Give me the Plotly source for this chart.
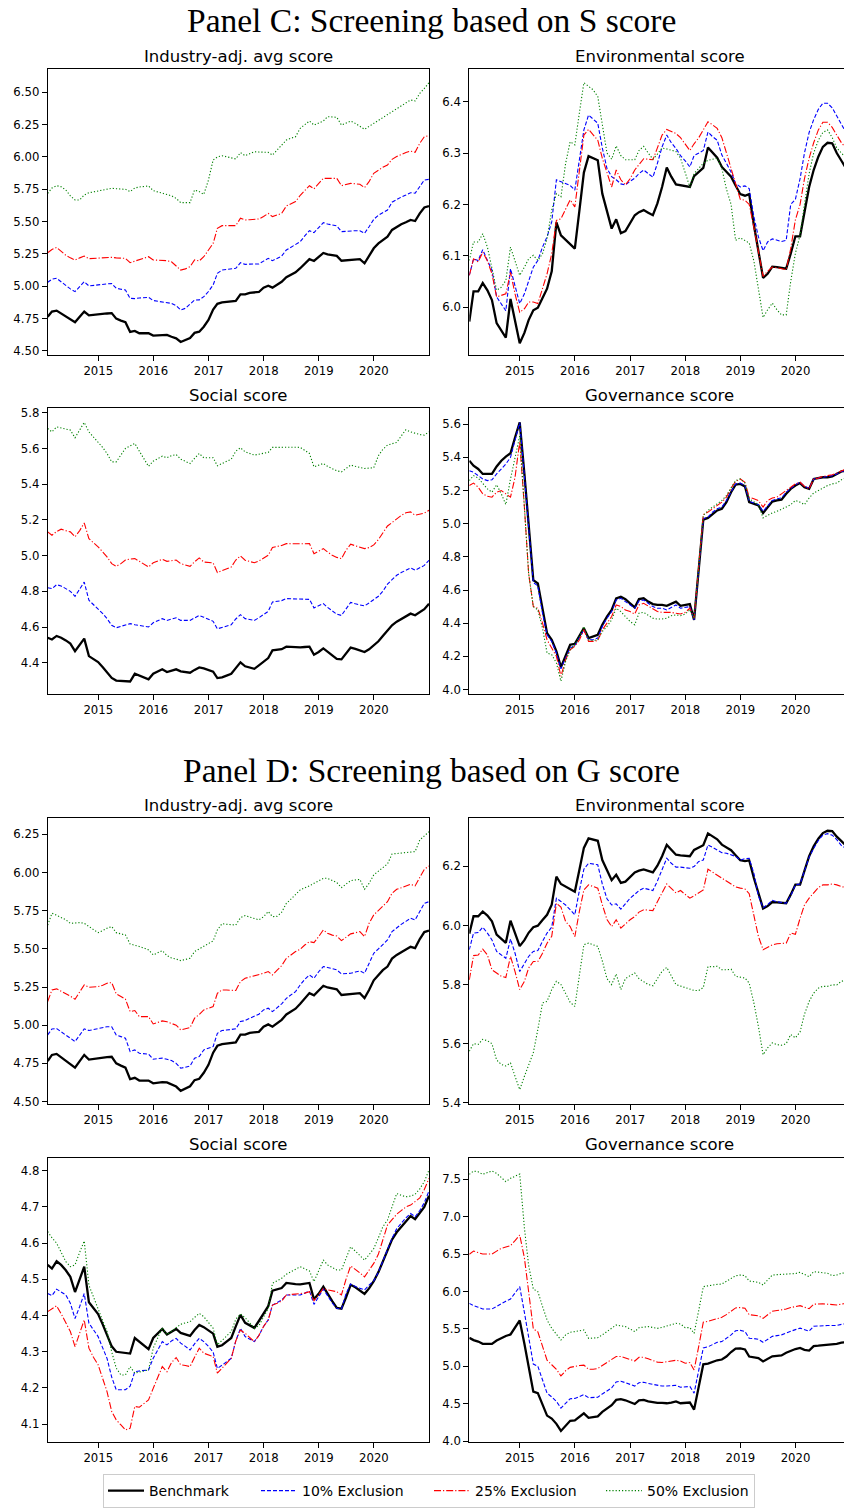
import calendar
from datetime import date, timedelta

import plotly.graph_objects as go

# Month-end observation dates, Jan 2014 - Dec 2020
dates = [date(y, m, calendar.monthrange(y, m)[1]).isoformat()
         for y in range(2014, 2021) for m in range(1, 13)]

# ---------------- Benchmark (same in both panels) ----------------
bench_avg = [
    4.765, 4.805, 4.812, 4.790, 4.770, 4.745, 4.722, 4.765, 4.805, 4.775, 4.780, 4.783,
    4.787, 4.790, 4.793, 4.750, 4.735, 4.722, 4.647, 4.655, 4.637, 4.637, 4.637, 4.619,
    4.622, 4.627, 4.625, 4.610, 4.598, 4.570, 4.585, 4.600, 4.640, 4.649, 4.688, 4.740,
    4.820, 4.865, 4.876, 4.879, 4.883, 4.887, 4.938, 4.938, 4.950, 4.954, 4.956, 4.990,
    5.005, 4.990, 5.010, 5.035, 5.070, 5.090, 5.108, 5.140, 5.175, 5.210, 5.196, 5.225,
    5.258, 5.247, 5.240, 5.235, 5.198, 5.200, 5.204, 5.207, 5.210, 5.178, 5.230, 5.294,
    5.332, 5.360, 5.384, 5.436, 5.460, 5.480, 5.495, 5.513, 5.505, 5.564, 5.610, 5.620,
]
bench_env = [
    5.972, 6.031, 6.031, 6.047, 6.033, 6.014, 5.969, 5.955, 5.941, 6.016, 5.975, 5.930,
    5.950, 5.975, 5.994, 5.999, 6.018, 6.036, 6.070, 6.165, 6.140, 6.131, 6.124, 6.114,
    6.190, 6.262, 6.294, 6.290, 6.286, 6.221, 6.185, 6.153, 6.171, 6.144, 6.148, 6.163,
    6.179, 6.185, 6.189, 6.184, 6.179, 6.202, 6.234, 6.272, 6.254, 6.239, 6.237, 6.235,
    6.234, 6.255, 6.263, 6.271, 6.311, 6.302, 6.291, 6.273, 6.263, 6.254, 6.237, 6.220,
    6.217, 6.220, 6.160, 6.110, 6.057, 6.065, 6.079, 6.078, 6.076, 6.075, 6.104, 6.138,
    6.138, 6.182, 6.234, 6.267, 6.293, 6.312, 6.320, 6.319, 6.300, 6.285, 6.270, 6.255,
]
bench_soc = [
    4.540, 4.530, 4.550, 4.540, 4.525, 4.507, 4.465, 4.500, 4.535, 4.437, 4.420, 4.404,
    4.375, 4.345, 4.315, 4.300, 4.298, 4.297, 4.295, 4.338, 4.328, 4.318, 4.307, 4.338,
    4.350, 4.363, 4.348, 4.355, 4.363, 4.352, 4.348, 4.344, 4.360, 4.374, 4.368, 4.360,
    4.350, 4.314, 4.318, 4.328, 4.338, 4.370, 4.402, 4.380, 4.372, 4.366, 4.385, 4.404,
    4.426, 4.469, 4.472, 4.476, 4.490, 4.488, 4.487, 4.486, 4.488, 4.490, 4.445, 4.460,
    4.480, 4.460, 4.440, 4.421, 4.419, 4.450, 4.485, 4.478, 4.470, 4.460, 4.475, 4.495,
    4.520, 4.550, 4.580, 4.610, 4.630, 4.645, 4.660, 4.675, 4.666, 4.685, 4.700, 4.731,
]
bench_gov = [
    5.380, 5.350, 5.330, 5.300, 5.300, 5.300, 5.345, 5.380, 5.405, 5.425, 5.520, 5.612,
    5.300, 4.980, 4.660, 4.640, 4.480, 4.340, 4.300, 4.230, 4.135, 4.200, 4.270, 4.275,
    4.320, 4.370, 4.310, 4.320, 4.330, 4.390, 4.440, 4.480, 4.550, 4.560, 4.545, 4.520,
    4.495, 4.545, 4.550, 4.530, 4.515, 4.510, 4.510, 4.505, 4.515, 4.530, 4.505, 4.510,
    4.515, 4.420, 4.730, 5.025, 5.035, 5.060, 5.080, 5.090, 5.130, 5.190, 5.235, 5.240,
    5.225, 5.130, 5.120, 5.110, 5.065, 5.100, 5.133, 5.140, 5.145, 5.180, 5.210, 5.230,
    5.245, 5.220, 5.210, 5.270, 5.275, 5.280, 5.280, 5.285, 5.300, 5.315, 5.320, 5.330,
]

# ---------------- Panel C: screening on S score ----------------
s10_avg = [
    5.031, 5.055, 5.062, 5.035, 5.000, 4.980, 4.959, 5.000, 5.036, 5.003, 5.008, 5.012,
    5.016, 5.019, 5.021, 4.985, 4.978, 4.972, 4.907, 4.905, 4.910, 4.913, 4.915, 4.890,
    4.885, 4.880, 4.874, 4.868, 4.850, 4.817, 4.830, 4.860, 4.894, 4.895, 4.920, 4.960,
    5.010, 5.100, 5.126, 5.130, 5.135, 5.139, 5.183, 5.170, 5.172, 5.173, 5.173, 5.195,
    5.216, 5.198, 5.215, 5.234, 5.281, 5.300, 5.320, 5.345, 5.390, 5.430, 5.415, 5.455,
    5.492, 5.482, 5.475, 5.467, 5.423, 5.427, 5.430, 5.430, 5.430, 5.410, 5.461, 5.518,
    5.550, 5.570, 5.590, 5.650, 5.673, 5.690, 5.706, 5.724, 5.720, 5.770, 5.822, 5.827,
]
s25_avg = [
    5.260, 5.285, 5.300, 5.270, 5.240, 5.220, 5.204, 5.220, 5.234, 5.214, 5.216, 5.218,
    5.220, 5.222, 5.224, 5.220, 5.218, 5.216, 5.183, 5.195, 5.210, 5.220, 5.229, 5.204,
    5.202, 5.200, 5.198, 5.190, 5.160, 5.126, 5.135, 5.152, 5.204, 5.196, 5.229, 5.280,
    5.332, 5.448, 5.469, 5.469, 5.468, 5.469, 5.526, 5.513, 5.515, 5.518, 5.521, 5.540,
    5.564, 5.539, 5.550, 5.564, 5.621, 5.640, 5.655, 5.704, 5.740, 5.778, 5.753, 5.795,
    5.835, 5.835, 5.835, 5.835, 5.778, 5.787, 5.796, 5.793, 5.789, 5.763, 5.809, 5.874,
    5.900, 5.920, 5.938, 5.982, 6.003, 6.020, 6.034, 6.046, 6.036, 6.106, 6.157, 6.165,
]
s50_avg = [
    5.719, 5.760, 5.778, 5.770, 5.745, 5.700, 5.668, 5.668, 5.706, 5.724, 5.730, 5.738,
    5.745, 5.752, 5.758, 5.755, 5.752, 5.750, 5.732, 5.760, 5.768, 5.772, 5.776, 5.740,
    5.730, 5.720, 5.711, 5.700, 5.680, 5.647, 5.647, 5.647, 5.745, 5.732, 5.711, 5.822,
    5.977, 6.000, 6.010, 6.000, 5.990, 5.985, 6.034, 6.010, 6.025, 6.041, 6.038, 6.036,
    6.036, 6.015, 6.054, 6.090, 6.131, 6.145, 6.157, 6.222, 6.250, 6.278, 6.247, 6.262,
    6.278, 6.312, 6.310, 6.307, 6.247, 6.262, 6.278, 6.260, 6.240, 6.214, 6.237, 6.260,
    6.285, 6.310, 6.332, 6.355, 6.376, 6.400, 6.420, 6.441, 6.433, 6.492, 6.530, 6.575,
]
s10_env = [
    6.062, 6.094, 6.091, 6.112, 6.091, 6.072, 6.020, 6.007, 5.993, 6.075, 6.039, 6.007,
    6.026, 6.052, 6.078, 6.091, 6.117, 6.137, 6.166, 6.248, 6.244, 6.241, 6.237, 6.228,
    6.290, 6.345, 6.374, 6.366, 6.358, 6.310, 6.270, 6.254, 6.248, 6.240, 6.238, 6.245,
    6.251, 6.260, 6.267, 6.260, 6.253, 6.280, 6.312, 6.335, 6.320, 6.309, 6.295, 6.285,
    6.273, 6.295, 6.300, 6.305, 6.341, 6.332, 6.325, 6.296, 6.280, 6.263, 6.241, 6.234,
    6.236, 6.231, 6.176, 6.137, 6.110, 6.127, 6.133, 6.131, 6.128, 6.130, 6.200, 6.210,
    6.250, 6.300, 6.340, 6.365, 6.385, 6.397, 6.397, 6.388, 6.372, 6.355, 6.340, 6.330,
]
s25_env = [
    6.062, 6.094, 6.088, 6.107, 6.090, 6.065, 6.020, 6.023, 6.026, 6.068, 6.026, 5.990,
    5.997, 6.010, 6.010, 6.007, 6.039, 6.065, 6.104, 6.169, 6.172, 6.192, 6.209, 6.195,
    6.273, 6.335, 6.346, 6.335, 6.325, 6.290, 6.260, 6.234, 6.267, 6.248, 6.238, 6.250,
    6.267, 6.278, 6.289, 6.288, 6.287, 6.310, 6.335, 6.346, 6.342, 6.338, 6.330, 6.318,
    6.305, 6.318, 6.330, 6.345, 6.361, 6.355, 6.348, 6.330, 6.300, 6.270, 6.240, 6.210,
    6.208, 6.200, 6.156, 6.110, 6.060, 6.070, 6.078, 6.077, 6.075, 6.073, 6.114, 6.170,
    6.200, 6.250, 6.290, 6.320, 6.345, 6.360, 6.360, 6.350, 6.335, 6.320, 6.310, 6.300,
]
s50_env = [
    6.091, 6.127, 6.127, 6.143, 6.117, 6.078, 6.033, 6.039, 6.052, 6.117, 6.091, 6.062,
    6.078, 6.094, 6.101, 6.091, 6.104, 6.133, 6.189, 6.221, 6.215, 6.280, 6.322, 6.316,
    6.380, 6.437, 6.430, 6.423, 6.410, 6.360, 6.300, 6.288, 6.314, 6.295, 6.287, 6.287,
    6.287, 6.305, 6.313, 6.300, 6.288, 6.298, 6.310, 6.308, 6.305, 6.303, 6.290, 6.260,
    6.234, 6.260, 6.270, 6.280, 6.286, 6.288, 6.290, 6.270, 6.230, 6.200, 6.130, 6.135,
    6.130, 6.125, 6.090, 6.040, 5.980, 5.995, 6.008, 5.995, 5.985, 5.985, 6.050, 6.105,
    6.140, 6.200, 6.260, 6.300, 6.325, 6.340, 6.345, 6.330, 6.310, 6.300, 6.290, 6.280,
]
s10_soc = [
    4.820, 4.815, 4.837, 4.830, 4.815, 4.800, 4.772, 4.810, 4.852, 4.750, 4.727, 4.703,
    4.675, 4.647, 4.610, 4.596, 4.605, 4.612, 4.619, 4.613, 4.608, 4.603, 4.600, 4.624,
    4.636, 4.647, 4.637, 4.644, 4.652, 4.637, 4.637, 4.637, 4.651, 4.665, 4.655, 4.645,
    4.632, 4.590, 4.597, 4.605, 4.613, 4.645, 4.669, 4.647, 4.642, 4.637, 4.652, 4.670,
    4.688, 4.740, 4.742, 4.748, 4.759, 4.758, 4.756, 4.755, 4.754, 4.755, 4.707, 4.720,
    4.731, 4.710, 4.690, 4.672, 4.665, 4.700, 4.738, 4.730, 4.724, 4.718, 4.735, 4.752,
    4.772, 4.800, 4.840, 4.865, 4.890, 4.905, 4.920, 4.931, 4.918, 4.930, 4.945, 4.974,
]
s25_soc = [
    5.133, 5.114, 5.135, 5.148, 5.140, 5.133, 5.105, 5.140, 5.183, 5.095, 5.072, 5.049,
    5.020, 4.993, 4.955, 4.940, 4.955, 4.975, 4.981, 4.983, 4.968, 4.952, 4.936, 4.960,
    4.970, 4.979, 4.968, 4.972, 4.975, 4.955, 4.948, 4.940, 4.965, 4.987, 4.964, 4.962,
    4.959, 4.905, 4.915, 4.925, 4.936, 4.975, 4.998, 4.974, 4.967, 4.960, 4.970, 4.985,
    5.002, 5.045, 5.050, 5.057, 5.067, 5.066, 5.065, 5.064, 5.066, 5.067, 5.011, 5.025,
    5.039, 5.020, 5.002, 4.990, 4.983, 5.030, 5.064, 5.055, 5.047, 5.039, 5.045, 5.060,
    5.090, 5.130, 5.166, 5.185, 5.207, 5.225, 5.240, 5.245, 5.226, 5.233, 5.238, 5.254,
]
s50_soc = [
    5.712, 5.693, 5.721, 5.715, 5.712, 5.703, 5.660, 5.700, 5.746, 5.693, 5.665, 5.637,
    5.605, 5.572, 5.525, 5.525, 5.565, 5.600, 5.614, 5.628, 5.585, 5.540, 5.500, 5.529,
    5.543, 5.557, 5.548, 5.560, 5.566, 5.540, 5.528, 5.516, 5.545, 5.572, 5.548, 5.548,
    5.548, 5.503, 5.515, 5.528, 5.540, 5.585, 5.604, 5.581, 5.572, 5.563, 5.568, 5.575,
    5.578, 5.606, 5.607, 5.608, 5.609, 5.608, 5.607, 5.606, 5.590, 5.572, 5.497, 5.507,
    5.516, 5.500, 5.485, 5.475, 5.469, 5.490, 5.507, 5.500, 5.492, 5.488, 5.490, 5.492,
    5.560, 5.595, 5.619, 5.625, 5.634, 5.670, 5.705, 5.693, 5.685, 5.678, 5.675, 5.693,
]
s10_gov = [
    5.320, 5.310, 5.290, 5.270, 5.260, 5.265, 5.300, 5.330, 5.360, 5.400, 5.500, 5.610,
    5.290, 4.970, 4.645, 4.625, 4.460, 4.330, 4.290, 4.220, 4.125, 4.190, 4.250, 4.265,
    4.310, 4.360, 4.300, 4.300, 4.310, 4.380, 4.430, 4.470, 4.540, 4.550, 4.530, 4.510,
    4.490, 4.535, 4.540, 4.520, 4.500, 4.490, 4.490, 4.480, 4.495, 4.510, 4.490, 4.495,
    4.500, 4.420, 4.730, 5.030, 5.040, 5.070, 5.090, 5.100, 5.140, 5.195, 5.240, 5.245,
    5.230, 5.135, 5.125, 5.115, 5.075, 5.110, 5.140, 5.150, 5.155, 5.190, 5.215, 5.235,
    5.250, 5.225, 5.215, 5.270, 5.275, 5.280, 5.285, 5.290, 5.300, 5.315, 5.320, 5.330,
]
s25_gov = [
    5.230, 5.245, 5.220, 5.180, 5.165, 5.160, 5.190, 5.200, 5.180, 5.160, 5.280, 5.495,
    5.100, 4.700, 4.500, 4.490, 4.400, 4.300, 4.250, 4.200, 4.080, 4.180, 4.240, 4.260,
    4.300, 4.360, 4.290, 4.290, 4.295, 4.360, 4.400, 4.440, 4.510, 4.500, 4.480, 4.470,
    4.455, 4.510, 4.520, 4.505, 4.490, 4.470, 4.465, 4.465, 4.465, 4.460, 4.455, 4.465,
    4.490, 4.430, 4.750, 5.055, 5.070, 5.090, 5.110, 5.130, 5.160, 5.215, 5.255, 5.270,
    5.250, 5.160, 5.150, 5.140, 5.100, 5.140, 5.155, 5.160, 5.180, 5.200, 5.220, 5.240,
    5.250, 5.225, 5.210, 5.270, 5.275, 5.285, 5.290, 5.295, 5.305, 5.320, 5.330, 5.340,
]
s50_gov = [
    5.260, 5.290, 5.275, 5.240, 5.210, 5.190, 5.235, 5.180, 5.115, 5.270, 5.400, 5.530,
    5.100, 4.700, 4.500, 4.480, 4.370, 4.220, 4.210, 4.160, 4.050, 4.170, 4.240, 4.270,
    4.320, 4.380, 4.300, 4.295, 4.300, 4.350, 4.380, 4.420, 4.490, 4.470, 4.440, 4.410,
    4.390, 4.460, 4.465, 4.450, 4.430, 4.425, 4.425, 4.430, 4.445, 4.450, 4.445, 4.455,
    4.480, 4.430, 4.750, 5.050, 5.080, 5.100, 5.120, 5.140, 5.170, 5.220, 5.260, 5.270,
    5.245, 5.150, 5.130, 5.115, 5.035, 5.050, 5.065, 5.075, 5.085, 5.100, 5.115, 5.140,
    5.130, 5.115, 5.155, 5.185, 5.200, 5.215, 5.230, 5.240, 5.245, 5.265, 5.280, 5.290,
]

# ---------------- Panel D: screening on G score ----------------
g10_avg = [
    4.936, 4.975, 4.978, 4.955, 4.935, 4.915, 4.893, 4.935, 4.976, 4.965, 4.972, 4.978,
    4.984, 4.990, 4.990, 4.936, 4.925, 4.915, 4.827, 4.838, 4.816, 4.813, 4.810, 4.777,
    4.780, 4.784, 4.777, 4.768, 4.750, 4.718, 4.725, 4.733, 4.784, 4.795, 4.838, 4.850,
    4.860, 4.947, 4.965, 4.968, 4.972, 4.976, 5.024, 5.030, 5.045, 5.060, 5.072, 5.100,
    5.111, 5.089, 5.115, 5.140, 5.176, 5.200, 5.220, 5.264, 5.300, 5.329, 5.307, 5.350,
    5.384, 5.378, 5.370, 5.362, 5.336, 5.338, 5.340, 5.348, 5.355, 5.340, 5.406, 5.471,
    5.500, 5.530, 5.558, 5.613, 5.640, 5.660, 5.680, 5.700, 5.689, 5.744, 5.798, 5.809,
]
g25_avg = [
    5.155, 5.231, 5.238, 5.222, 5.209, 5.190, 5.170, 5.215, 5.264, 5.248, 5.250, 5.253,
    5.262, 5.275, 5.279, 5.205, 5.188, 5.170, 5.089, 5.096, 5.056, 5.056, 5.056, 5.008,
    5.018, 5.028, 5.022, 5.013, 5.000, 4.969, 4.976, 4.984, 5.046, 5.070, 5.100, 5.110,
    5.122, 5.209, 5.231, 5.230, 5.228, 5.227, 5.286, 5.307, 5.315, 5.322, 5.329, 5.340,
    5.351, 5.329, 5.360, 5.390, 5.438, 5.460, 5.482, 5.497, 5.525, 5.547, 5.541, 5.580,
    5.624, 5.602, 5.590, 5.584, 5.554, 5.575, 5.598, 5.605, 5.613, 5.580, 5.667, 5.722,
    5.750, 5.780, 5.809, 5.864, 5.890, 5.900, 5.910, 5.923, 5.912, 5.969, 6.021, 6.043,
]
g50_avg = [
    5.656, 5.733, 5.720, 5.705, 5.690, 5.667, 5.670, 5.672, 5.667, 5.646, 5.625, 5.606,
    5.620, 5.635, 5.646, 5.606, 5.598, 5.591, 5.532, 5.525, 5.515, 5.505, 5.493, 5.460,
    5.475, 5.488, 5.456, 5.440, 5.433, 5.423, 5.430, 5.438, 5.482, 5.500, 5.515, 5.535,
    5.552, 5.624, 5.665, 5.661, 5.658, 5.656, 5.704, 5.718, 5.708, 5.698, 5.690, 5.710,
    5.744, 5.711, 5.713, 5.740, 5.798, 5.825, 5.853, 5.886, 5.900, 5.912, 5.929, 5.945,
    5.962, 5.962, 5.948, 5.934, 5.901, 5.925, 5.947, 5.951, 5.955, 5.890, 5.929, 5.984,
    6.010, 6.033, 6.056, 6.121, 6.125, 6.128, 6.130, 6.133, 6.137, 6.213, 6.240, 6.267,
]
g10_env = [
    5.918, 5.974, 5.976, 5.994, 5.974, 5.951, 5.912, 5.901, 5.889, 5.954, 5.906, 5.844,
    5.873, 5.895, 5.912, 5.915, 5.946, 5.974, 5.994, 6.092, 6.081, 6.069, 6.053, 6.036,
    6.120, 6.190, 6.210, 6.208, 6.205, 6.140, 6.090, 6.069, 6.073, 6.055, 6.075, 6.092,
    6.105, 6.118, 6.126, 6.122, 6.118, 6.150, 6.190, 6.227, 6.210, 6.197, 6.197, 6.195,
    6.193, 6.199, 6.216, 6.221, 6.272, 6.264, 6.255, 6.246, 6.244, 6.238, 6.233, 6.221,
    6.226, 6.227, 6.176, 6.100, 6.060, 6.070, 6.085, 6.080, 6.078, 6.075, 6.100, 6.137,
    6.140, 6.185, 6.230, 6.260, 6.287, 6.305, 6.310, 6.305, 6.290, 6.270, 6.260, 6.250,
]
g25_env = [
    5.816, 5.898, 5.900, 5.920, 5.900, 5.850, 5.839, 5.828, 5.824, 5.895, 5.844, 5.783,
    5.811, 5.856, 5.878, 5.878, 5.906, 5.940, 5.963, 6.075, 6.062, 6.013, 5.996, 5.962,
    6.050, 6.120, 6.137, 6.131, 6.126, 6.070, 6.020, 5.996, 6.019, 5.991, 6.005, 6.019,
    6.030, 6.045, 6.053, 6.052, 6.050, 6.080, 6.110, 6.140, 6.125, 6.110, 6.118, 6.105,
    6.092, 6.100, 6.110, 6.120, 6.190, 6.180, 6.171, 6.160, 6.150, 6.140, 6.130, 6.126,
    6.123, 6.107, 6.030, 5.963, 5.918, 5.925, 5.934, 5.938, 5.940, 5.940, 5.974, 5.970,
    6.024, 6.069, 6.092, 6.109, 6.128, 6.137, 6.137, 6.140, 6.137, 6.131, 6.128, 6.125,
]
g50_env = [
    5.575, 5.600, 5.598, 5.615, 5.610, 5.600, 5.545, 5.530, 5.525, 5.535, 5.490, 5.445,
    5.490, 5.530, 5.570, 5.648, 5.738, 5.743, 5.783, 5.811, 5.800, 5.770, 5.740, 5.726,
    5.830, 5.935, 5.940, 5.935, 5.929, 5.880, 5.820, 5.800, 5.836, 5.783, 5.820, 5.830,
    5.839, 5.820, 5.810, 5.800, 5.796, 5.820, 5.845, 5.858, 5.830, 5.800, 5.795, 5.790,
    5.783, 5.780, 5.780, 5.790, 5.861, 5.860, 5.862, 5.850, 5.850, 5.852, 5.828, 5.825,
    5.822, 5.805, 5.738, 5.659, 5.563, 5.586, 5.603, 5.597, 5.595, 5.600, 5.631, 5.620,
    5.640, 5.700, 5.743, 5.771, 5.788, 5.794, 5.794, 5.799, 5.799, 5.811, 5.816, 5.820,
]
g10_soc = [
    4.461, 4.455, 4.473, 4.465, 4.457, 4.434, 4.392, 4.425, 4.461, 4.379, 4.360, 4.342,
    4.310, 4.282, 4.230, 4.195, 4.195, 4.195, 4.205, 4.245, 4.247, 4.249, 4.250, 4.282,
    4.305, 4.328, 4.319, 4.330, 4.337, 4.324, 4.315, 4.305, 4.322, 4.337, 4.328, 4.315,
    4.299, 4.254, 4.263, 4.272, 4.282, 4.330, 4.365, 4.342, 4.335, 4.328, 4.345, 4.370,
    4.388, 4.429, 4.436, 4.443, 4.457, 4.457, 4.457, 4.457, 4.462, 4.468, 4.431, 4.452,
    4.473, 4.455, 4.435, 4.420, 4.418, 4.460, 4.487, 4.480, 4.475, 4.471, 4.484, 4.496,
    4.520, 4.550, 4.585, 4.613, 4.640, 4.655, 4.670, 4.682, 4.673, 4.690, 4.712, 4.744,
]
g25_soc = [
    4.411, 4.418, 4.427, 4.405, 4.379, 4.356, 4.314, 4.350, 4.388, 4.310, 4.285, 4.264,
    4.225, 4.190, 4.135, 4.112, 4.098, 4.084, 4.089, 4.149, 4.147, 4.156, 4.167, 4.199,
    4.230, 4.259, 4.245, 4.270, 4.284, 4.264, 4.262, 4.259, 4.285, 4.310, 4.296, 4.292,
    4.287, 4.241, 4.255, 4.268, 4.282, 4.330, 4.360, 4.351, 4.340, 4.328, 4.345, 4.370,
    4.388, 4.429, 4.434, 4.440, 4.457, 4.458, 4.458, 4.459, 4.462, 4.466, 4.441, 4.458,
    4.475, 4.471, 4.468, 4.466, 4.457, 4.500, 4.537, 4.528, 4.518, 4.507, 4.525, 4.544,
    4.570, 4.610, 4.650, 4.665, 4.680, 4.690, 4.700, 4.705, 4.714, 4.725, 4.748, 4.779,
]
g50_soc = [
    4.632, 4.615, 4.600, 4.575, 4.549, 4.535, 4.540, 4.575, 4.606, 4.484, 4.450, 4.415,
    4.385, 4.356, 4.300, 4.255, 4.236, 4.236, 4.259, 4.241, 4.244, 4.247, 4.250, 4.310,
    4.340, 4.367, 4.347, 4.357, 4.367, 4.376, 4.380, 4.383, 4.395, 4.406, 4.397, 4.380,
    4.365, 4.319, 4.332, 4.345, 4.356, 4.390, 4.404, 4.394, 4.380, 4.365, 4.372, 4.395,
    4.420, 4.489, 4.496, 4.503, 4.514, 4.521, 4.528, 4.535, 4.529, 4.523, 4.494, 4.525,
    4.553, 4.540, 4.532, 4.526, 4.526, 4.560, 4.590, 4.578, 4.565, 4.553, 4.568, 4.585,
    4.615, 4.645, 4.664, 4.700, 4.737, 4.732, 4.728, 4.730, 4.735, 4.750, 4.770, 4.802,
]
g10_gov = [
    5.841, 5.810, 5.790, 5.766, 5.766, 5.766, 5.800, 5.841, 5.870, 5.899, 5.980, 6.064,
    5.720, 5.370, 5.030, 5.000, 4.820, 4.640, 4.590, 4.530, 4.440, 4.500, 4.565, 4.570,
    4.600, 4.620, 4.580, 4.580, 4.585, 4.630, 4.670, 4.710, 4.790, 4.800, 4.780, 4.760,
    4.735, 4.780, 4.785, 4.770, 4.755, 4.740, 4.735, 4.735, 4.740, 4.745, 4.720, 4.725,
    4.730, 4.640, 4.950, 5.245, 5.260, 5.290, 5.320, 5.330, 5.370, 5.420, 5.475, 5.480,
    5.465, 5.375, 5.370, 5.360, 5.320, 5.360, 5.400, 5.410, 5.420, 5.445, 5.470, 5.490,
    5.510, 5.490, 5.470, 5.535, 5.540, 5.545, 5.545, 5.545, 5.545, 5.560, 5.570, 5.580,
]
g25_gov = [
    6.497, 6.541, 6.520, 6.501, 6.501, 6.501, 6.540, 6.577, 6.595, 6.613, 6.680, 6.755,
    6.450, 6.000, 5.500, 5.460, 5.280, 5.080, 5.020, 4.960, 4.870, 4.940, 4.985, 5.000,
    5.010, 5.015, 4.960, 4.960, 4.970, 5.010, 5.050, 5.080, 5.130, 5.130, 5.110, 5.090,
    5.070, 5.120, 5.120, 5.100, 5.080, 5.055, 5.050, 5.060, 5.070, 5.080, 5.070, 5.040,
    5.050, 4.950, 5.270, 5.590, 5.600, 5.620, 5.640, 5.655, 5.690, 5.730, 5.780, 5.785,
    5.775, 5.690, 5.685, 5.675, 5.640, 5.690, 5.735, 5.745, 5.750, 5.765, 5.785, 5.800,
    5.810, 5.790, 5.770, 5.830, 5.835, 5.835, 5.830, 5.825, 5.820, 5.830, 5.845, 5.860,
]
g50_gov = [
    7.567, 7.611, 7.600, 7.567, 7.590, 7.611, 7.580, 7.520, 7.469, 7.513, 7.540, 7.571,
    6.850, 6.350, 6.033, 5.998, 5.800, 5.619, 5.507, 5.430, 5.351, 5.420, 5.455, 5.463,
    5.475, 5.485, 5.373, 5.375, 5.382, 5.420, 5.463, 5.510, 5.552, 5.540, 5.530, 5.500,
    5.463, 5.516, 5.525, 5.530, 5.518, 5.507, 5.520, 5.535, 5.552, 5.574, 5.565, 5.516,
    5.516, 5.440, 5.750, 6.064, 6.075, 6.087, 6.095, 6.100, 6.140, 6.176, 6.210, 6.220,
    6.211, 6.140, 6.130, 6.122, 6.087, 6.160, 6.220, 6.225, 6.229, 6.229, 6.229, 6.240,
    6.256, 6.225, 6.198, 6.265, 6.260, 6.250, 6.243, 6.211, 6.220, 6.243, 6.250, 6.260,
]

series_names = ["Benchmark", "10% Exclusion", "25% Exclusion", "50% Exclusion"]
year_ticks = ["2015", "2016", "2017", "2018", "2019", "2020"]

# ---------------- layout geometry (pixels) ----------------
W, H = 844, 1508
COL_X = {"L": (47.7, 429.0), "R": (469.3, 850.6)}   # right column runs past the page edge
ROW_Y = [(69.3, 355.0), (408.3, 693.8), (818.3, 1103.8), (1157.7, 1442.3)]

X_START = date(2014, 1, 31)
X_END = date(2020, 12, 31)

panels = [
    (0, "L", "Industry-adj. avg score", [bench_avg, s10_avg, s25_avg, s50_avg],
     (4.469, 6.678), [4.5, 4.75, 5.0, 5.25, 5.5, 5.75, 6.0, 6.25, 6.5], "{:.2f}"),
    (0, "R", "Environmental score", [bench_env, s10_env, s25_env, s50_env],
     (5.907, 6.463), [6.0, 6.1, 6.2, 6.3, 6.4], "{:.1f}"),
    (1, "L", "Social score", [bench_soc, s10_soc, s25_soc, s50_soc],
     (4.226, 5.825), [4.4, 4.6, 4.8, 5.0, 5.2, 5.4, 5.6, 5.8], "{:.1f}"),
    (1, "R", "Governance score", [bench_gov, s10_gov, s25_gov, s50_gov],
     (3.974, 5.696), [4.0, 4.2, 4.4, 4.6, 4.8, 5.0, 5.2, 5.4, 5.6], "{:.1f}"),
    (2, "L", "Industry-adj. avg score", [bench_avg, g10_avg, g25_avg, g50_avg],
     (4.485, 6.355), [4.5, 4.75, 5.0, 5.25, 5.5, 5.75, 6.0, 6.25], "{:.2f}"),
    (2, "R", "Environmental score", [bench_env, g10_env, g25_env, g50_env],
     (5.397, 6.362), [5.4, 5.6, 5.8, 6.0, 6.2], "{:.1f}"),
    (3, "L", "Social score", [bench_soc, g10_soc, g25_soc, g50_soc],
     (4.050, 4.836), [4.1, 4.2, 4.3, 4.4, 4.5, 4.6, 4.7, 4.8], "{:.1f}"),
    (3, "R", "Governance score", [bench_gov, g10_gov, g25_gov, g50_gov],
     (3.983, 7.789), [4.0, 4.5, 5.0, 5.5, 6.0, 6.5, 7.0, 7.5], "{:.1f}"),
]

line_styles = [
    dict(color="black", width=2.3, dash="solid"),
    dict(color="blue", width=1.1, dash="4px,2px"),
    dict(color="red", width=1.1, dash="7px,2px,1.2px,2px"),
    dict(color="green", width=1.1, dash="1.2px,2px"),
]
legend_widths = [102, 122, 121, None]

TICK_FONT = dict(family="DejaVu Sans", size=11.7, color="black")

fig = go.Figure()
layout = dict(
    width=W, height=H,
    margin=dict(l=0, r=0, t=0, b=0, autoexpand=False),
    paper_bgcolor="white", plot_bgcolor="white",
    showlegend=True,
    annotations=[],
)

span_days = (X_END - X_START).days
for i, (row, col, title, series, yrange, yticks, fmt) in enumerate(panels):
    idx = "" if i == 0 else str(i + 1)
    x0, x1 = COL_X[col]
    y0, y1 = ROW_Y[row]
    vis_x1 = min(x1, W)
    x_end = X_START + timedelta(days=span_days * (vis_x1 - x0) / (x1 - x0))

    for k, (vals, style) in enumerate(zip(series, line_styles)):
        trace = go.Scatter(
            x=dates, y=vals, mode="lines",
            name=series_names[k],
            line=style,
            xaxis="x" + idx, yaxis="y" + idx,
            showlegend=(i == 0),
            legendgroup=series_names[k],
        )
        if i == 0 and legend_widths[k]:
            trace.legendwidth = legend_widths[k]
        fig.add_trace(trace)

    layout["xaxis" + idx] = dict(
        domain=[x0 / W, vis_x1 / W],
        anchor="y" + idx,
        type="date",
        range=[X_START.isoformat(), x_end.isoformat()],
        tickvals=[f"{y}-01-01" for y in year_ticks],
        ticktext=year_ticks,
        showgrid=False, zeroline=False,
        showline=True, linecolor="black", linewidth=1,
        mirror=True,
        ticks="outside", ticklen=5, tickwidth=1, tickcolor="black",
        tickfont=TICK_FONT,
    )
    layout["yaxis" + idx] = dict(
        domain=[1 - y1 / H, 1 - y0 / H],
        anchor="x" + idx,
        range=list(yrange),
        tickvals=yticks,
        ticktext=[fmt.format(v) for v in yticks],
        showgrid=False, zeroline=False,
        showline=True, linecolor="black", linewidth=1,
        mirror=(col == "L"),
        ticks="outside", ticklen=5, tickwidth=1, tickcolor="black",
        tickfont=TICK_FONT,
    )
    layout["annotations"].append(dict(
        text=title, xref="paper", yref="paper",
        x=(x0 + x1) / 2 / W, y=1 - (y0 - 13) / H,
        xanchor="center", yanchor="middle", showarrow=False,
        font=dict(family="DejaVu Sans", size=16.5, color="black"),
    ))

for text, yc in [("Panel C: Screening based on S score", 21),
                 ("Panel D: Screening based on G score", 770)]:
    layout["annotations"].append(dict(
        text=text, xref="paper", yref="paper",
        x=432 / W, y=1 - yc / H, xanchor="center", yanchor="middle",
        showarrow=False,
        font=dict(family="Liberation Serif", size=33.5, color="black"),
    ))

layout["legend"] = dict(
    orientation="h",
    x=103 / W, xanchor="left",
    y=0, yanchor="bottom",
    font=dict(family="DejaVu Sans", size=14, color="black"),
    bgcolor="white", bordercolor="#cccccc", borderwidth=1,
    itemwidth=36,
    tracegroupgap=0,
)

fig.update_layout(**layout)
fig.write_html("out.html")
